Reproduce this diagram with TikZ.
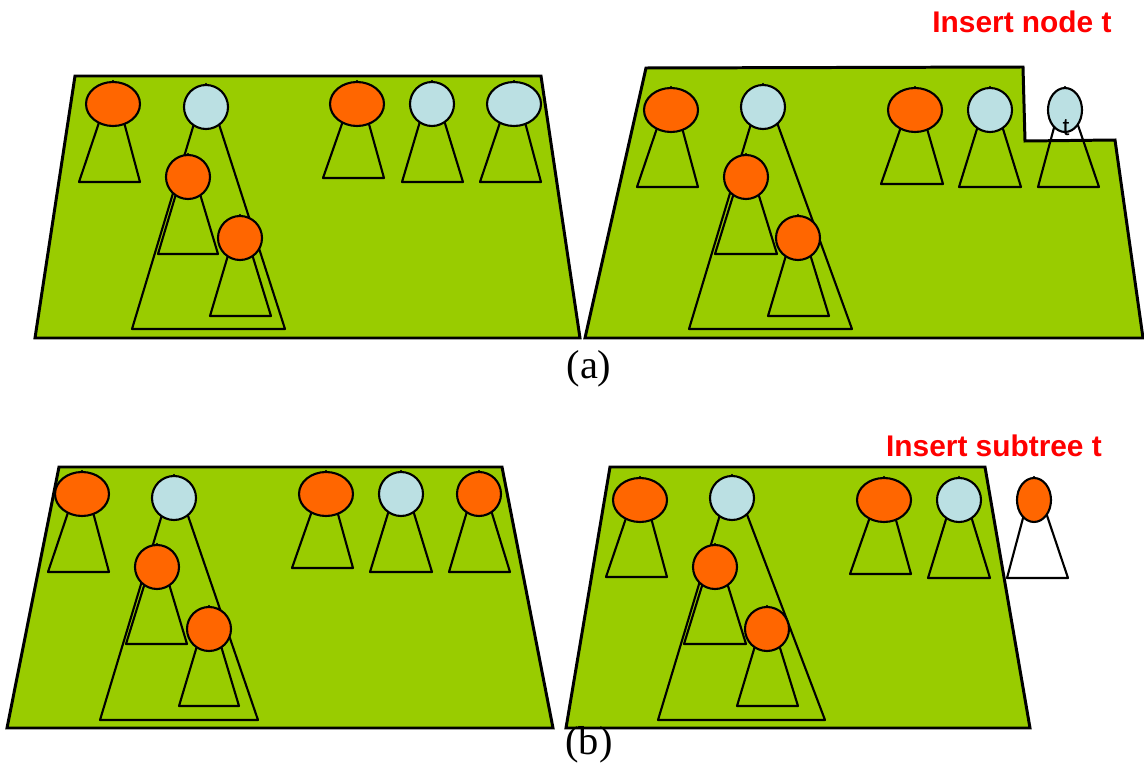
\documentclass[tikz,border=0pt]{standalone}
\usepackage{fontspec}
\setmainfont{Liberation Serif}
\newfontfamily\labelfont{Liberation Sans}
\usetikzlibrary{shapes.geometric}

\definecolor{grass}{HTML}{99CC00}
\definecolor{rnodecol}{HTML}{FF6600}
\definecolor{bnodecol}{HTML}{BBE0E3}

\pgfdeclarelayer{back}
\pgfdeclarelayer{mid}
\pgfsetlayers{back,mid,main}

\tikzset{
  forest/.style={draw, fill=grass, line width=1.7pt, line join=miter},
  tri/.style={draw, line width=1.2pt, line join=round},
  rnode/.style={ellipse, draw, fill=rnodecol, line width=1.2pt, inner sep=0pt,
                minimum width=1.08cm, minimum height=0.88cm},
  rcirc/.style={rnode, minimum width=0.88cm},
  bnode/.style={rnode, fill=bnodecol, minimum width=0.88cm},
  thin node/.style={minimum width=0.68cm},
  caption/.style={font=\fontsize{23}{25}\selectfont},
  insert/.style={text=red, font=\labelfont\bfseries\fontsize{17}{19}\selectfont},
  tag/.style={inner sep=0pt, font=\labelfont\fontsize{14}{15}\selectfont}
}

\begin{document}
\begin{tikzpicture}[x=0.02cm, y=-0.02cm]
    % pixel grid, origin top-left
    \useasboundingbox (0,0) rectangle (1144,767);

    % --- Forests (green areas) ---
    \begin{pgfonlayer}{back}
    \draw[forest] (75,76) -- (541,76) -- (580,338) -- (35,338) -- cycle; % (a) before
    \draw[forest] (646,68) -- (1023,67) -- (1025,141) -- (1115,140)
                  -- (1143,338) -- (585,338) -- cycle; % (a) after
    \draw[forest] (59,467) -- (502,467) -- (553,728) -- (7,728) -- cycle; % (b) before
    \draw[forest] (610,467) -- (985,467) -- (1030,728) -- (566,728) -- cycle; % (b) after
    \end{pgfonlayer}

    % --- Roots of the subtrees ---
    % (a) before
    \node[rnode] (al1) at (113,104) {};
    \node[bnode] (al2) at (206,107) {};
    \node[rcirc] (al3) at (188,177) {};
    \node[rcirc] (al4) at (240,238) {};
    \node[rnode] (al5) at (357,104) {};
    \node[bnode] (al6) at (432,104) {};
    \node[bnode, minimum width=1.08cm] (al7) at (514,104) {};
    % (a) after
    \node[rnode] (ar1) at (671,110) {};
    \node[bnode] (ar2) at (763,107) {};
    \node[rcirc] (ar3) at (746,177) {};
    \node[rcirc] (ar4) at (798,238) {};
    \node[rnode] (ar5) at (915,110) {};
    \node[bnode] (ar6) at (990,110) {};
    \node[bnode, thin node] (ar7) at (1065,110) {};
    % (b) before
    \node[rnode] (bl1) at (82,494) {};
    \node[bnode] (bl2) at (174,498) {};
    \node[rcirc] (bl3) at (157,567) {};
    \node[rcirc] (bl4) at (209,629) {};
    \node[rnode] (bl5) at (326,494) {};
    \node[bnode] (bl6) at (401,494) {};
    \node[rcirc] (bl7) at (479,494) {};
    % (b) after
    \node[rnode] (br1) at (640,500) {};
    \node[bnode] (br2) at (732,498) {};
    \node[rcirc] (br3) at (715,567) {};
    \node[rcirc] (br4) at (767,629) {};
    \node[rnode] (br5) at (884,500) {};
    \node[bnode] (br6) at (959,500) {};
    \node[rnode, thin node] (br7) at (1034,500) {};

    % --- Triangles under the roots ---
    \begin{pgfonlayer}{mid}
    \foreach \n/\l/\r/\y in {al1/79/140/182, al2/132/285/329, al3/158/218/254,
        al4/210/271/316, al5/323/384/178, al6/402/463/182, al7/480/541/182,
        ar1/637/698/187, ar2/689/852/329, ar3/715/777/254, ar4/768/829/316,
        ar5/881/943/184, ar6/959/1021/187, ar7/1038/1099/187,
        bl1/48/109/572, bl2/100/258/720, bl3/126/187/644, bl4/179/239/706,
        bl5/292/353/568, bl6/370/432/572, bl7/449/510/572,
        br1/606/667/577, br2/658/825/720, br3/684/746/644, br4/737/798/706,
        br5/850/911/574, br6/928/990/578}
      \draw[tri] (\n.north) -- (\l,\y) -- (\r,\y) -- cycle;
    \draw[tri, fill=white] (br7.north) -- (1007,578) -- (1068,578) -- cycle;
    \end{pgfonlayer}

    % --- Text Labels ---
    \node[tag] (tlabel) at (1066,128) {t};
    \node[insert] (insnode) at (1022,22) {Insert node t};
    \node[insert] (inssub) at (994,446) {Insert subtree t};
    \node[caption] (capa) at (589,369) {(a)};
    \node[caption] (capb) at (589,745) {(b)};

\end{tikzpicture}
\end{document}
